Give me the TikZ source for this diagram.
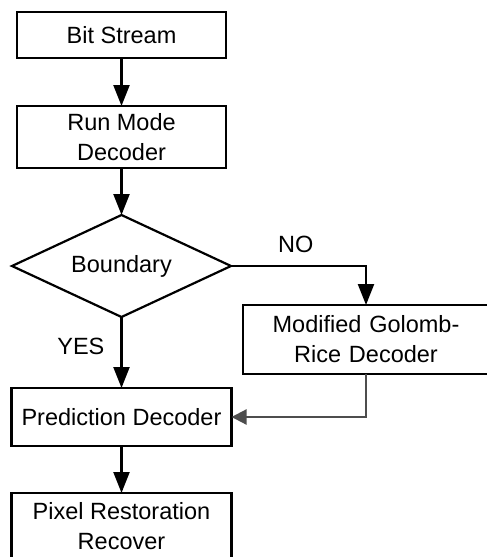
\documentclass[tikz,border=0pt]{standalone}
\usepackage{fontspec}
\setmainfont{Liberation Sans}
\usetikzlibrary{positioning, arrows.meta, shapes.geometric}
\definecolor{linkgray}{HTML}{4D4D4D}
\tikzset{
  blk/.style={draw, line width=2.2pt, align=center, inner sep=0pt, outer sep=0pt,
              font=\fontsize{23.5}{30}\selectfont},
  dec/.style={diamond, aspect=2.2, draw, line width=2.2pt, inner sep=0pt, outer sep=0pt,
              minimum width=219pt, minimum height=102pt,
              font=\fontsize{23.5}{30}\selectfont},
  lbl/.style={inner sep=0pt, font=\fontsize{23.5}{30}\selectfont},
  ar/.style={-{Triangle[length=21pt, width=16pt]}, line width=2.2pt},
  arg/.style={-{Triangle[length=15pt, width=15pt]}, line width=2.2pt, linkgray},
}

\begin{document}
\begin{tikzpicture}[x=1pt, y=1pt]
  \useasboundingbox (0,0) rectangle (487,-557);

  \node[blk, minimum width=209pt, minimum height=46pt] (bits) at (121.5,-35) {Bit Stream};
  \node[blk, minimum width=209pt, minimum height=62pt, below=48pt of bits] (run) {Run Mode\\Decoder};
  \node[dec, below=47pt of run] (bound) {Boundary};
  \node[blk, minimum width=220pt, minimum height=58pt, below=71pt of bound] (pred) {Prediction Decoder};
  \node[blk, minimum width=220pt, minimum height=67pt, below=47pt of pred] (pixel) {Pixel Restoration\\Recover};
  \node[blk, minimum width=246pt, minimum height=69pt, text width=240pt, xshift=3pt] (golomb) at (363,-339.5) {Modified Golomb-\\Rice Decoder};

  % main flow
  \draw[ar] (bits) -- (run);
  \draw[ar] (run) -- (bound);
  \draw[ar] (bound) -- node[lbl, pos=0.42, left=16pt]{YES} (pred);
  \draw[ar] (pred) -- (pixel);
  % NO branch through the Golomb-Rice decoder
  \draw[ar] (bound.east) -| node[lbl, pos=0.24, above=12pt]{NO} (golomb.north);
  \draw[arg] (golomb.south) |- (pred.east);
\end{tikzpicture}
\end{document}
